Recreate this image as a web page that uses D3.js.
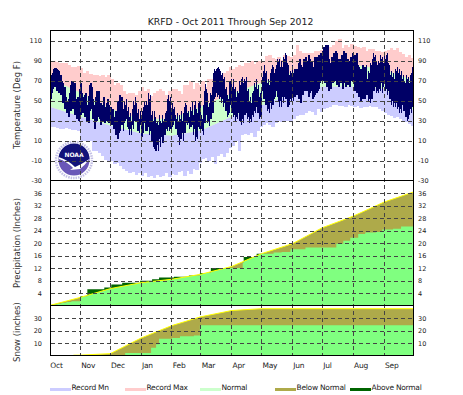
<!DOCTYPE html>
<html>
<head>
<meta charset="utf-8">
<script src="https://cdn.jsdelivr.net/npm/d3@7/dist/d3.min.js"></script>
<style>
  html, body { margin: 0; padding: 0; background: #fff; }
  text { font-family: "DejaVu Sans", sans-serif; fill: #222; }
</style>
</head>
<body>
<svg id="chart" width="463" height="395" style="display:block"></svg>
<script>
const months = ["Oct", "Nov", "Dec", "Jan", "Feb", "Mar", "Apr", "May", "Jun", "Jul", "Aug", "Sep"];
const monthStart = [0, 31, 61, 92, 123, 152, 183, 213, 244, 274, 305, 336];
const normalDays = [0, 31, 61, 92, 123, 152, 183, 213, 244, 274, 305, 336, 366];

const tempTicks = [-30, -10, 10, 30, 50, 70, 90, 110];
const precipTicks = [4, 8, 12, 16, 20, 24, 28, 32, 36];
const snowTicks = [10, 20, 30];

// read in 3 day blocks off the picture
const recordMax = [90,90,89,88,88,88,86,84,84,85, 83,78,80,77,76,76,75,76,74,76, 72,66,68,66,60,57,58,58,56,60,
  64,60,62,55,58,60,62,60,56,60, 62,62,60,57,66,66,70,62,68,66, 70,64,72,72,74,80,76,78,80,84,
  82,84,86,85,88,88,90,87,90,90, 89,95,96,93,92,94,91,96,95,94, 96,106,100,98,98,98,98,100,100,101,
  101,103,104,106,110,112,103,106,104,107, 105,104,103,104,100,102,102,100,100,99, 100,101,103,101,103,99,97,94,96,93];
const recordMin = [24,24,23,22,22,23,22,21,21,20, 10,10,10,10,0,0,-2,-5,-9,-10, -10,-13,-12,-15,-18,-20,-22,-21,-24,-22,
  -25,-22,-26,-25,-27,-24,-26,-25,-22,-26, -23,-24,-21,-20,-25,-20,-23,-18,-19,-12, -8,-7,-10,-6,-13,-5,-3,-6,-2,3,
  5,10,0,16,17,16,18,14,20,24, 26,28,26,24,28,30,29,30,30,29, 32,35,36,36,38,40,39,36,42,39,
  42,43,44,46,46,45,45,44,46,45, 44,45,43,44,44,45,44,44,42,40, 38,36,35,33,34,32,30,29,27,25];
const normalLow = [44, 34, 25, 17, 15, 20, 34, 45, 57, 64, 64, 62, 40];
const normalHigh = [72, 58, 42, 31, 32, 44, 57, 68, 78, 85, 86, 81, 70];

// observed daily high and low, one inner list per month
const obsHigh = [
  [66,72,76,78,82,83,83,82,81,80,74,76,70,68,60,64,54,50,46,52,58,66,70,70,64,68,52,48,54,46,62],
  [68,58,54,50,56,58,46,44,55,66,68,64,52,46,42,54,60,56,60,44,48,38,46,54,44,40,48,52,46,40],
  [44,38,42,34,32,40,38,50,46,56,52,54,38,42,50,46,52,40,44,34,38,30,42,50,46,54,48,38,42,32,40],
  [34,40,44,50,46,50,46,58,52,56,36,40,30,40,34,28,30,26,36,30,28,36,30,32,38,40,52,56,50,54,42],
  [48,42,44,36,32,38,30,36,32,40,30,38,44,48,46,38,40,34,44,40,50,36,46,50,42,38,48,50,46],
  [36,32,46,60,67,62,58,44,48,58,56,64,78,82,80,82,83,84,82,80,76,78,72,74,62,64,56,52,70,70,72],
  [64,72,62,64,54,60,58,70,66,72,74,68,72,70,74,60,62,50,54,48,58,60,68,64,72,62,66,54,58,64],
  [74,80,86,78,80,68,72,66,78,82,86,84,78,82,86,92,90,92,84,90,84,94,92,98,96,88,86,76,80,78,86],
  [62,78,82,74,82,78,88,92,86,84,80,92,90,94,90,86,96,92,88,90,80,84,94,90,94,88,96,86,98,94],
  [100,104,102,106,104,106,92,88,86,94,90,98,96,100,98,88,92,86,92,96,92,100,96,98,88,92,86,90,94,90,98],
  [94,96,88,98,86,84,80,82,74,86,78,84,80,86,72,80,78,88,86,92,98,94,96,90,86,90,88,96,92,94,88],
  [96,92,96,98,88,86,76,80,74,78,72,82,80,84,78,82,76,80,72,76,70,68,76,72,74,68,76,78,84,82]
];
const obsLow = [
  [40,52,58,62,66,64,66,60,64,58,60,56,56,48,50,42,44,38,38,34,42,40,46,42,46,36,38,32,36,30,38],
  [36,38,38,44,34,36,30,32,28,40,42,44,32,32,22,30,30,40,34,32,26,32,30,36,28,30,30,36,28,30],
  [30,26,28,22,22,16,18,12,18,20,32,26,26,20,28,30,32,24,22,16,22,16,26,22,30,30,30,20,20,18,26],
  [10,14,18,28,20,20,20,24,16,20,10,10,4,2,0,0,6,0,12,4,14,8,8,16,16,22,20,24,20,22,20],
  [24,26,30,22,22,16,14,6,12,12,18,10,18,18,28,26,28,22,24,24,26,16,22,10,14,12,24,22,22],
  [22,20,16,28,28,36,28,30,25,32,32,38,38,52,54,58,54,56,52,54,48,52,44,48,40,40,34,36,38,46,38],
  [38,34,36,30,34,32,38,30,30,26,32,28,36,36,38,32,34,28,32,29,36,34,40,38,44,38,38,32,34,34],
  [60,52,52,46,46,40,42,38,48,42,46,46,52,54,60,54,50,44,50,44,54,48,54,52,52,44,44,46,52,50,56],
  [50,56,54,60,56,62,52,54,48,56,56,62,60,68,60,60,54,58,62,60,52,54,56,64,58,60,62,68,70,74],
  [70,76,68,70,64,66,60,62,62,70,68,72,70,76,66,66,64,70,68,68,62,68,70,64,72,66,68,64,70,70,72],
  [70,60,68,58,58,54,56,50,54,52,58,52,58,56,56,50,52,48,52,52,60,60,64,58,60,58,62,60,68,58,64],
  [68,60,62,56,60,52,52,46,50,44,48,44,48,42,44,38,42,38,46,40,40,34,34,30,32,36,42,38,44,38]
];

// accumulated precipitation and snow, actual values are steps
const precipNormal = [0, 2.6, 5.4, 7.3, 8.4, 10, 12.5, 16.6, 19.8, 24.9, 28.6, 33.1, 36.4];
const precipDays = [0,3,8,12,17,22,31,38,55,62,73,91,103,110,125,140,151,162,194,195,208,225,233,242,257,288,295,302,310,317,328,334,345,353,366];
const precipActual = [0.1,0.3,0.6,0.9,1.1,1.4,3,5.2,5.8,6.7,7.3,7.9,8.4,9,9.2,9.6,10.4,12,13.7,15.5,16.6,17,17.1,18,18.6,19.8,20.7,21.7,22.9,23.4,23.5,24.3,24.6,25.3,25.3];
const snowNormal = [0, 0.3, 1.5, 14, 24, 31, 36, 37.5, 37.5, 37.5, 37.5, 37.5, 37.5];
const snowDays = [0,76,102,107,110,123,131,145,151,366];
const snowActual = [0,2,6.3,9,13.5,14,15.4,16,24.2,24.2];

const legendLabels = ["Record Mn", "Record Max", "Normal", "Below Normal", "Above Normal"];
const legendColors = ["#ccccff", "#ffcccc", "#ccffcc", "#aeaa4a", "#006400"];

const plotLeft = 50.5, plotRight = 413.5, plotTop = 30.5, tempBottom = 180.5, precipBottom = 305.5, snowBottom = 355.5;

const svg = d3.select("#chart");
const x = d3.scaleLinear().domain([0, 366]).range([49.5, 414]);
const yTemp = d3.scaleLinear().domain([-30, 120]).range([tempBottom, plotTop]);
const yPrecip = d3.scaleLinear().domain([0, 40]).range([precipBottom, tempBottom]);
const ySnow = d3.scaleLinear().domain([0, 40]).range([snowBottom, precipBottom]);

const defs = svg.append("defs");
function clip(id, d) {
    defs.append("clipPath").attr("id", id).append("path").attr("d", d);
}
const belowLow = d3.area().x((d, i) => x(normalDays[i])).y0(tempBottom).y1(d => yTemp(d));
const aboveLow = d3.area().x((d, i) => x(normalDays[i])).y0(plotTop).y1(d => yTemp(d));
clip("below-low", belowLow(normalLow));
clip("above-low", aboveLow(normalLow));
defs.append("clipPath").attr("id", "frame").append("rect")
    .attr("x", plotLeft).attr("y", plotTop).attr("width", plotRight - plotLeft).attr("height", snowBottom - plotTop);

const plot = svg.append("g").attr("clip-path", "url(#frame)");

// temperature panel
const blockStep = 366 / recordMax.length;
plot.append("g").attr("clip-path", "url(#above-low)").attr("shape-rendering", "crispEdges")
    .selectAll("rect").data(recordMax).join("rect")
    .attr("x", (d, i) => x(i * blockStep))
    .attr("width", x(blockStep) - x(0) + 0.5)
    .attr("y", d => yTemp(d))
    .attr("height", d => tempBottom - yTemp(d))
    .attr("fill", "#ffcccc");
plot.append("g").attr("clip-path", "url(#below-low)").attr("shape-rendering", "crispEdges")
    .selectAll("rect").data(recordMin).join("rect")
    .attr("x", (d, i) => x(i * blockStep))
    .attr("width", x(blockStep) - x(0) + 0.5)
    .attr("y", plotTop)
    .attr("height", d => yTemp(d) - plotTop)
    .attr("fill", "#ccccff");
plot.append("path")
    .attr("d", d3.area().x((d, i) => x(normalDays[i])).y0((d, i) => yTemp(normalLow[i])).y1(d => yTemp(d))(normalHigh))
    .attr("fill", "#ccffcc");

const observed = [];
obsHigh.forEach((list, m) => list.forEach((hi, j) => {
    observed.push({day: monthStart[m] + j, hi: hi, lo: obsLow[m][j]});
}));
plot.append("g").attr("shape-rendering", "crispEdges")
    .selectAll("rect").data(observed).join("rect")
    .attr("x", d => x(d.day))
    .attr("width", x(1) - x(0) + 0.3)
    .attr("y", d => yTemp(d.hi))
    .attr("height", d => yTemp(d.lo) - yTemp(d.hi))
    .attr("fill", "#000066");

// accumulation panels, green is actual, olive is the deficit, dark green the surplus
function accumPanel(y, normal, days, actual) {
    const bottom = y.range()[0];
    const id = "clip-" + Math.round(bottom);
    const normalArea = d3.area().x((d, i) => x(normalDays[i])).y0(bottom).y1(d => y(d));
    const actualArea = d3.area().curve(d3.curveStepAfter).x((d, i) => x(days[i])).y0(bottom).y1(d => y(d));
    clip(id, actualArea(actual));
    plot.append("path").attr("d", actualArea(actual)).attr("fill", "#006400");
    plot.append("path").attr("d", normalArea(normal)).attr("fill", "#aeaa4a");
    plot.append("g").attr("clip-path", "url(#" + id + ")").append("path")
        .attr("d", normalArea(normal)).attr("fill", "#80ff80");
    plot.append("path")
        .attr("d", d3.line().x((d, i) => x(normalDays[i])).y(d => y(d))(normal))
        .attr("fill", "none").attr("stroke", "#ffff00").attr("stroke-width", 1);
}
accumPanel(yPrecip, precipNormal, precipDays, precipActual);
accumPanel(ySnow, snowNormal, snowDays, snowActual);
// snow line only starts in November
plot.append("rect").attr("x", plotLeft).attr("y", snowBottom - 1.5).attr("width", x(24) - plotLeft).attr("height", 1.5).attr("fill", "#fff");

// NOAA logo
const logo = svg.append("g").attr("transform", "translate(74,160)");
logo.append("circle").attr("r", 18).attr("fill", "#fff")
    .attr("stroke", "#c4c0e6").attr("stroke-width", 2.5).attr("stroke-dasharray", "1.5 1");
logo.append("circle").attr("r", 15.5).attr("fill", "#6a57b8");
logo.append("path").attr("d", "M-15.5,-1 A15.5,15.5 0 0 1 15.5,-1 Q8,5 0,9 Q-8,1 -15.5,-1 Z").attr("fill", "#12127a");
logo.append("path").attr("d", "M-15.5,-1 Q-8,1 -1,8 L-4,10 L6,9 Q11,5 15.5,-1 Q8,4 1,7 Q-6,0 -15.5,-3 Z").attr("fill", "#fff");
logo.append("text").attr("text-anchor", "middle").attr("y", -3).attr("font-size", 6).attr("font-weight", "bold")
    .style("fill", "#fff").text("NOAA");

// grid lines
const grid = svg.append("g").attr("stroke", "#444").attr("stroke-dasharray", "4 3")
    .attr("shape-rendering", "crispEdges").attr("fill", "none");
function hGrid(y, ticks) {
    grid.append("g").selectAll("line").data(ticks).join("line")
        .attr("x1", plotLeft).attr("x2", plotRight)
        .attr("y1", d => Math.round(y(d)) + 0.5).attr("y2", d => Math.round(y(d)) + 0.5);
}
hGrid(yTemp, tempTicks.filter(d => d > -30));
hGrid(yPrecip, precipTicks);
hGrid(ySnow, snowTicks);
grid.append("g").selectAll("line").data(monthStart.slice(1)).join("line")
    .attr("y1", plotTop).attr("y2", snowBottom)
    .attr("x1", d => Math.floor(x(d)) + 0.5).attr("x2", d => Math.floor(x(d)) + 0.5);

// frame
const box = svg.append("g").attr("stroke", "#000").attr("shape-rendering", "crispEdges");
box.append("rect").attr("x", plotLeft).attr("y", plotTop).attr("width", plotRight - plotLeft).attr("height", snowBottom - plotTop).attr("fill", "none");
box.append("g").selectAll("line").data([tempBottom, precipBottom]).join("line")
    .attr("x1", plotLeft).attr("x2", plotRight).attr("y1", d => d).attr("y2", d => d);

// tick labels on both sides
function tickLabels(y, ticks) {
    [[42, "end"], [418, "start"]].forEach(([px, anchor]) => {
        svg.append("g").selectAll("text").data(ticks).join("text")
            .attr("x", px).attr("y", d => y(d) + 2.5)
            .attr("text-anchor", anchor).attr("font-size", 6.5)
            .text(d => d);
    });
}
tickLabels(yTemp, tempTicks);
tickLabels(yPrecip, precipTicks);
tickLabels(ySnow, snowTicks);

svg.append("g").selectAll("text").data(months).join("text")
    .attr("x", (d, i) => x(monthStart[i]) + 0.8).attr("y", 367.5)
    .attr("font-size", 7.5).attr("letter-spacing", -0.2).text(d => d);

svg.append("text").attr("x", 230.5).attr("y", 25).attr("text-anchor", "middle")
    .attr("font-size", 9.3).text("KRFD - Oct 2011 Through Sep 2012");

[["Temperature (Deg F)", 105], ["Precipitation (Inches)", 243], ["Snow (inches)", 332]].forEach(([label, cy]) => {
    svg.append("text").attr("transform", "translate(20," + cy + ") rotate(-90)")
        .attr("text-anchor", "middle").attr("font-size", 8.5).style("fill", "#333").text(label);
});

// legend
const legend = svg.append("g").selectAll("g").data(legendLabels).join("g")
    .attr("transform", (d, i) => "translate(" + (50 + i * 75) + ",0)");
legend.append("rect").attr("y", 388).attr("width", 21).attr("height", 3).attr("fill", (d, i) => legendColors[i]);
legend.append("text").attr("x", 21.5).attr("y", 390).attr("font-size", 7.5).attr("letter-spacing", -0.25).text(d => d);
</script>
</body>
</html>
